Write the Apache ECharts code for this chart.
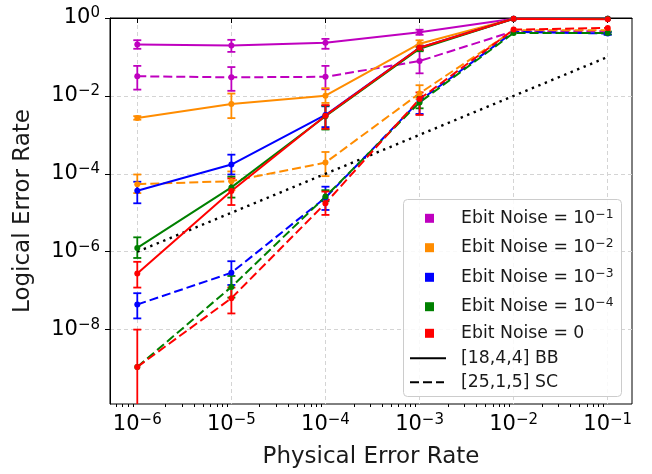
<!DOCTYPE html>
<html><head><meta charset="utf-8">
<script src="https://cdn.jsdelivr.net/npm/echarts@6/dist/echarts.min.js"></script>
<style>html,body{margin:0;padding:0;background:#fff}#c{width:652px;height:474px}</style>
</head><body><div id="c"></div>
<script>
// ---------- data ----------
const physErr = [1e-6, 1e-5, 1e-4, 1e-3, 1e-2, 1e-1];
const xTickExps = [-6, -5, -4, -3, -2, -1];
const yTickExps = [0, -2, -4, -6, -8];

// Ebit noise 1e-1
const bb1   = [0.209, 0.197, 0.231, 0.431, 0.955, 0.955];
const bb1Lo = [0.162, 0.135, 0.162, 0.37, null, null];
const bb1Hi = [0.269, 0.275, 0.291, 0.50, null, null];
const sc1   = [0.032, 0.030, 0.031, 0.0785, 0.457, 0.457];
const sc1Lo = [0.0145, 0.0135, 0.0148, 0.038, null, null];
const sc1Hi = [0.059, 0.055, 0.059, 0.147, null, null];
// Ebit noise 1e-2
const bb2   = [0.00272, 0.00618, 0.0101, 0.219, 0.955, 0.955];
const bb2Lo = [0.00245, 0.00269, 0.0066, 0.178, null, null];
const bb2Hi = [0.00302, 0.0115, 0.0158, 0.268, null, null];
const sc2   = [5.43e-5, 6.46e-5, 1.94e-4, 0.0116, 0.483, 0.483];
const sc2Lo = [3.2e-5, 3.8e-5, 8.7e-5, 0.0083, null, null];
const sc2Hi = [9.6e-5, 1.15e-4, 3.63e-4, 0.0188, null, null];
// Ebit noise 1e-3
const bb3   = [3.69e-5, 1.73e-4, 3.24e-3, 0.172, 0.955, 0.95];
const bb3Lo = [1.75e-5, 9.6e-5, 1.58e-3, 0.15, null, null];
const bb3Hi = [6.25e-5, 3.1e-4, 5.4e-3, 0.195, null, null];
const sc3   = [4.4e-8, 2.88e-7, 2.45e-5, 7.5e-3, 0.44, 0.40];
const sc3Lo = [1.94e-8, 1.4e-7, 1.18e-5, 3.44e-3, null, 0.37];
const sc3Hi = [8.6e-8, 5.7e-7, 4.67e-5, 0.0101, null, 0.43];
// Ebit noise 1e-4
const bb4   = [1.25e-6, 4.48e-5, 3.0e-3, 0.162, 0.955, 0.955];
const bb4Lo = [6.9e-7, 2.45e-5, 1.37e-3, 0.14, null, null];
const bb4Hi = [2.34e-6, 8.4e-5, 5.6e-3, 0.185, null, null];
const sc4   = [1.1e-9, 1.25e-7, 2.6e-5, 6.8e-3, 0.415, 0.415];
const sc4Lo = [null, 6.65e-8, 1.97e-5, 4.8e-3, null, 0.38];
const sc4Hi = [null, 2.38e-7, 3.8e-5, 9.5e-3, null, 0.45];
// Ebit noise 0
const bb5   = [2.77e-7, 3.6e-5, 3.11e-3, 0.172, 0.955, 0.93];
const bb5Lo = [1.2e-7, 1.58e-5, 1.43e-3, 0.15, null, null];
const bb5Hi = [5.5e-7, 7.6e-5, 5.8e-3, 0.195, null, null];
const sc5   = [1.1e-9, 6.4e-8, 1.75e-5, 8.3e-3, 0.503, 0.556];
const sc5Lo = [0, 2.6e-8, 8.8e-6, 3.24e-3, null, null];
const sc5Hi = [1.0e-8, 1.2e-7, 3.5e-5, 0.0123, null, null];
// reference line p_L = p
const refX = [1e-6, 1e-1];
const refY = [1e-6, 1e-1];

const legendLabels = ['Ebit Noise = 10^-1', 'Ebit Noise = 10^-2', 'Ebit Noise = 10^-3', 'Ebit Noise = 10^-4', 'Ebit Noise = 0'];
const codeLabels = ['[18,4,4] BB', '[25,1,5] SC'];
const colors = ['#bf00bf', '#ff8c00', '#0000ff', '#008000', '#ff0000'];

// ---------- build ----------
const FONT = 'DejaVu Sans';
const L = v => Math.log10(v);
const X_MIN = -6.29, X_MAX = -0.742, Y_MIN = -9.91, Y_MAX = 0;
const DASH = [9, 4];

const groups = [
  [bb1, bb1Lo, bb1Hi, sc1, sc1Lo, sc1Hi],
  [bb2, bb2Lo, bb2Hi, sc2, sc2Lo, sc2Hi],
  [bb3, bb3Lo, bb3Hi, sc3, sc3Lo, sc3Hi],
  [bb4, bb4Lo, bb4Hi, sc4, sc4Lo, sc4Hi],
  [bb5, bb5Lo, bb5Hi, sc5, sc5Lo, sc5Hi]
];

function pts(xs, ys) { return xs.map((x, i) => [L(x), L(ys[i])]); }
function errs(lo, hi) {
  const out = [];
  physErr.forEach((x, i) => {
    if (lo[i] == null || hi[i] == null) return;
    const l = lo[i] > 0 ? L(lo[i]) : Y_MIN - 1;
    out.push([L(x), l, L(hi[i])]);
  });
  return out;
}
function errSeries(data, color) {
  return {
    type: 'custom', xAxisIndex: 0, yAxisIndex: 0, clip: true, silent: true,
    encode: { x: 0, y: [1, 2] }, data: data, z: 2,
    renderItem: function (params, api) {
      const x = api.value(0), lo = api.value(1), hi = api.value(2);
      const p1 = api.coord([x, hi]), p2 = api.coord([x, lo]);
      const w = 4;
      const st = { stroke: color, lineWidth: 1.8 };
      return { type: 'group', children: [
        { type: 'line', shape: { x1: p1[0], y1: p1[1], x2: p2[0], y2: p2[1] }, style: st },
        { type: 'line', shape: { x1: p1[0] - w, y1: p1[1], x2: p1[0] + w, y2: p1[1] }, style: st },
        { type: 'line', shape: { x1: p2[0] - w, y1: p2[1], x2: p2[0] + w, y2: p2[1] }, style: st }
      ]};
    }
  };
}
function lineSeries(data, color, dashed) {
  return {
    type: 'line', xAxisIndex: 0, yAxisIndex: 0, data: data, z: 3,
    symbol: 'circle', symbolSize: 6, showSymbol: true, clip: true, silent: true,
    itemStyle: { color: color },
    lineStyle: { color: color, width: 2, type: dashed ? DASH : 'solid' }
  };
}

const series = [];
series.push({
  type: 'line', xAxisIndex: 0, yAxisIndex: 0, data: pts(refX, refY), symbol: 'none', z: 2, silent: true,
  lineStyle: { color: '#000', width: 2.4, type: [2.4, 4.6] }
});
groups.forEach((g, k) => {
  const c = colors[k];
  series.push(errSeries(errs(g[1], g[2]), c));
  series.push(lineSeries(pts(physErr, g[0]), c, false));
  series.push(errSeries(errs(g[4], g[5]), c));
  series.push(lineSeries(pts(physErr, g[3]), c, true));
});

const minorX = [];
for (let d = -7; d <= -1; d++) for (let k = 2; k <= 9; k++) {
  const v = d + Math.log10(k);
  if (v > X_MIN && v < X_MAX) minorX.push(v);
}

function expText(v) {
  const e = Math.round(v);
  return '{b|10}{s|' + (e < 0 ? '\u2212' + (-e) : String(e)) + '}';
}
const tickRich = {
  b: { fontSize: 21, fontFamily: FONT, color: '#000', lineHeight: 24 },
  s: { fontSize: 15, fontFamily: FONT, color: '#000', lineHeight: 15, verticalAlign: 'top' }
};
const gridStyle = { show: true, lineStyle: { color: '#d4d4d4', width: 1, type: [4, 3] } };

// legend (graphic)
const legRows = [218.3, 247.7, 277.3, 306.7, 333.3];
const legend = [];
legend.push({ type: 'rect', shape: { x: 403.5, y: 199.5, width: 218, height: 197, r: 4 },
  style: { fill: 'rgba(255,255,255,0.85)', stroke: '#cccccc', lineWidth: 1 }, z: 100 });
legendLabels.forEach((lab, i) => {
  legend.push({ type: 'rect', shape: { x: 425, y: legRows[i] - 4.5, width: 9, height: 9 },
    style: { fill: colors[i] }, z: 101 });
  const m = lab.match(/^(.*?10)\^(-?\d+)$/);
  const txt = m ? '{b|' + m[1] + '}{s|' + m[2].replace('-', '\u2212') + '}' : '{b|' + lab + '}';
  legend.push({ type: 'text', x: 461, y: legRows[i], z: 101,
    style: { text: txt, verticalAlign: 'middle', align: 'left',
      rich: { b: { fontSize: 17.3, fontFamily: FONT, fill: '#1a1a1a', lineHeight: 19 },
              s: { fontSize: 12.3, fontFamily: FONT, fill: '#1a1a1a', lineHeight: 12, verticalAlign: 'top' } } } });
});
const codeRows = [358.3, 382.3];
codeLabels.forEach((lab, i) => {
  legend.push({ type: 'line', shape: { x1: 410, y1: codeRows[i], x2: i === 0 ? 446 : 444, y2: codeRows[i] },
    style: { stroke: '#000', lineWidth: 2, lineDash: i === 0 ? null : DASH }, z: 101 });
  legend.push({ type: 'text', x: 461, y: codeRows[i], z: 101,
    style: { text: lab, verticalAlign: 'middle', align: 'left', fontSize: 17.3, fontFamily: FONT, fill: '#1a1a1a' } });
});

const chart = echarts.init(document.getElementById('c'), null, { renderer: 'canvas' });
chart.setOption({
  animation: false,
  backgroundColor: '#fff',
  grid: { left: 110, right: 20, top: 18, bottom: 67, show: true, borderColor: '#000', borderWidth: 1 },
  xAxis: [{
    type: 'value', min: X_MIN, max: X_MAX, position: 'bottom',
    name: 'Physical Error Rate', nameLocation: 'middle', nameGap: 42,
    nameTextStyle: { fontSize: 23, fontFamily: FONT, color: '#1a1a1a' },
    axisLine: { show: true, lineStyle: { color: '#000', width: 1 } },
    axisTick: { show: true, customValues: xTickExps, length: 5, lineStyle: { color: '#000', width: 1 } },
    axisLabel: { customValues: xTickExps, formatter: expText, rich: tickRich, margin: 9 },
    splitLine: gridStyle
  }, {
    type: 'value', min: X_MIN, max: X_MAX, position: 'bottom', gridIndex: 0,
    axisLine: { show: false }, axisLabel: { show: false }, splitLine: { show: false },
    axisTick: { show: true, customValues: minorX, length: 3, lineStyle: { color: '#000', width: 1 } }
  }],
  yAxis: [{
    type: 'value', min: Y_MIN, max: Y_MAX,
    name: 'Logical Error Rate', nameLocation: 'middle', nameGap: 75,
    nameTextStyle: { fontSize: 23, fontFamily: FONT, color: '#1a1a1a' },
    axisLine: { show: true, lineStyle: { color: '#000', width: 1 } },
    axisTick: { show: true, customValues: yTickExps, length: 5, lineStyle: { color: '#000', width: 1 } },
    axisLabel: { customValues: yTickExps, formatter: expText, rich: tickRich, margin: 10 },
    splitLine: gridStyle
  }],
  series: series,
  graphic: legend
});
</script></body></html>
